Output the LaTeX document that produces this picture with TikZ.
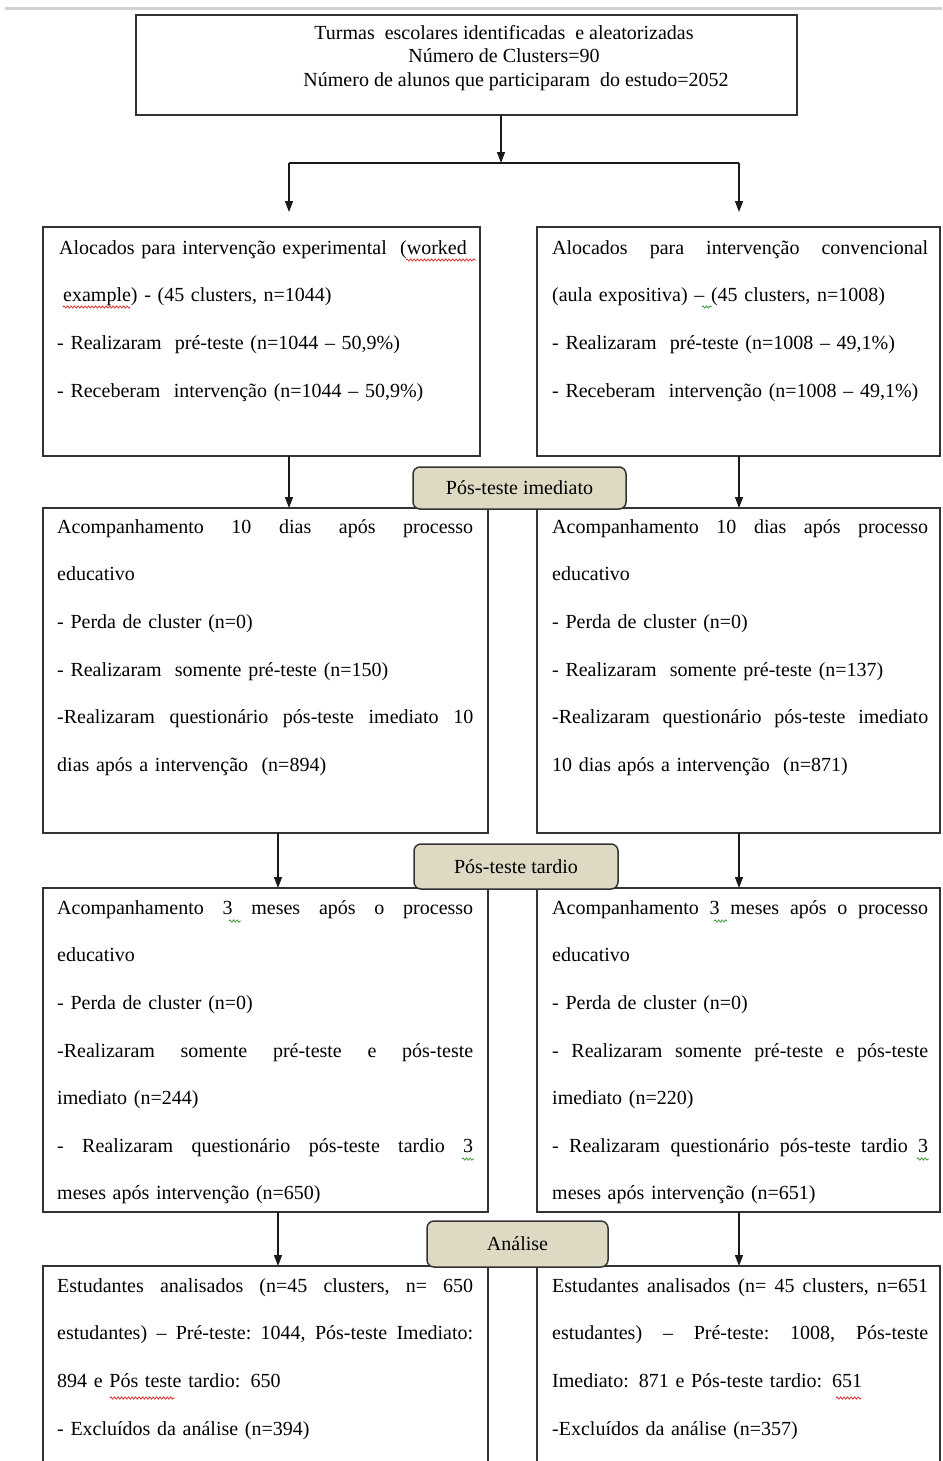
\documentclass[tikz,border=0pt]{standalone}
\usepackage{fontspec}
\setmainfont{Liberation Serif}
\usetikzlibrary{arrows.meta,decorations.pathmorphing}
\definecolor{labelfill}{HTML}{DDD9C3}
\definecolor{frame}{HTML}{333333}
\definecolor{spellred}{HTML}{D83030}
\definecolor{spellgreen}{HTML}{3A9A3A}
\newcommand\tw{416pt}
\newcommand\LJ[1]{\makebox[\tw][s]{\frenchspacing\spaceskip=0.25em plus 1fil\relax #1}}
\newcommand\LN[1]{\makebox[\tw][l]{#1}}
\begin{document}
\begin{tikzpicture}[x=1pt,y=-1pt,
  box/.style={draw=frame, line width=1.5pt, inner sep=0pt, outer sep=0pt, anchor=north west},
  ltxt/.style={anchor=north west, inner sep=0pt, text width=416pt, align=left,
    font=\fontsize{20}{47.6}\selectfont, execute at begin node={\renewcommand\tw{416pt}}},
  rtxt/.style={anchor=north west, inner sep=0pt, text width=376pt, align=left,
    font=\fontsize{20}{47.6}\selectfont, execute at begin node={\renewcommand\tw{376pt}}},
  lbl/.style={draw=frame, line width=1.5pt, fill=labelfill, rounded corners=7pt,
    inner sep=0pt, font=\fontsize{20}{24}\selectfont},
  conn/.style={line width=1.3pt, draw=black!90},
  arr/.style={conn, -{Triangle[length=11pt,width=8pt]}},
  sqr/.style={spellred, line width=0.8pt, decorate, decoration={snake, amplitude=1.1pt, segment length=3.5pt}},
  sqg/.style={spellgreen, line width=0.8pt, decorate, decoration={snake, amplitude=1.1pt, segment length=3.5pt}}]
\useasboundingbox (0,0) rectangle (942,1461);
\draw[line width=3pt, black!18] (5,9) -- (942,9);

% boxes
\node[box, minimum width=661pt, minimum height=100pt] (top) at (136,15) {};
\node[box, minimum width=437pt, minimum height=229pt] (A1) at (43,227) {};
\node[box, minimum width=403pt, minimum height=229pt] (A2) at (537,227) {};
\node[box, minimum width=445pt, minimum height=325pt] (B1) at (43,508) {};
\node[box, minimum width=403pt, minimum height=325pt] (B2) at (537,508) {};
\node[box, minimum width=445pt, minimum height=324pt] (C1) at (43,888) {};
\node[box, minimum width=403pt, minimum height=324pt] (C2) at (537,888) {};
\node[box, minimum width=445pt, minimum height=215pt] (D1) at (43,1266) {};
\node[box, minimum width=403pt, minimum height=215pt] (D2) at (537,1266) {};

% labels
\node[lbl, minimum width=213pt, minimum height=42pt] (L1) at (519.5,488) {Pós-teste imediato};
\node[lbl, minimum width=204pt, minimum height=45pt] (L2) at (516,866.5) {Pós-teste tardio};
\node[lbl, minimum width=181pt, minimum height=46pt] (L3) at (517.5,1244) {Análise};

% connectors
\coordinate (j) at (501,163);
\coordinate (jl) at (289,163);
\coordinate (jr) at (739,163);
\coordinate (tl) at (289,212);
\coordinate (tr) at (739,212);
\coordinate (xl) at (278,0);
\draw[arr] (top.south -| j) -- (j);
\draw[conn] (jl) -- (jr);
\draw[arr] (jl) -- (tl);
\draw[arr] (jr) -- (tr);
\draw[arr] (A1.south -| jl) -- (B1.north -| jl);
\draw[arr] (A2.south -| jr) -- (B2.north -| jr);
\draw[arr] (B1.south -| xl) -- (C1.north -| xl);
\draw[arr] (B2.south -| jr) -- (C2.north -| jr);
\draw[arr] (C1.south -| xl) -- (D1.north -| xl);
\draw[arr] (C2.south -| jr) -- (D2.north -| jr);

% texts
\node[anchor=north, inner sep=0pt, align=center, font=\fontsize{20}{23.5}\selectfont] (ttop) at (504,19)
 {\rule{0pt}{20pt}Turmas~ escolares identificadas~ e aleatorizadas\\
  Número de Clusters=90\\
  \hspace*{24pt}Número de alunos que participaram~ do estudo=2052};

\node[ltxt] (tA1) at (57,234) {\rule{0pt}{20pt}\LN{\hspace*{2pt}Alocados para intervenção experimental~ (worked}\\
\LN{\hspace*{6pt}example) - (45 clusters, n=1044)}\\
\LN{- Realizaram~ pré-teste (n=1044 – 50,9\%)}\\
\LN{- Receberam~ intervenção (n=1044 – 50,9\%)}};

\node[rtxt] (tA2) at (552,234) {\rule{0pt}{20pt}\LJ{Alocados para intervenção convencional}\\
\LN{(aula expositiva) – (45 clusters, n=1008)}\\
\LN{- Realizaram~ pré-teste (n=1008 – 49,1\%)}\\
\LN{- Receberam~ intervenção (n=1008 – 49,1\%)}};

\node[ltxt] (tB1) at (57,513) {\rule{0pt}{20pt}\LJ{Acompanhamento 10 dias após processo}\\
\LN{educativo}\\
\LN{- Perda de cluster (n=0)}\\
\LN{- Realizaram~ somente pré-teste (n=150)}\\
\LJ{-Realizaram questionário pós-teste imediato 10}\\
\LN{dias após a intervenção~ (n=894)}};

\node[rtxt] (tB2) at (552,513) {\rule{0pt}{20pt}\LJ{Acompanhamento 10 dias após processo}\\
\LN{educativo}\\
\LN{- Perda de cluster (n=0)}\\
\LN{- Realizaram~ somente pré-teste (n=137)}\\
\LJ{-Realizaram questionário pós-teste imediato}\\
\LN{10 dias após a intervenção~ (n=871)}};

\node[ltxt] (tC1) at (57,894) {\rule{0pt}{20pt}\LJ{Acompanhamento 3 meses após o processo}\\
\LN{educativo}\\
\LN{- Perda de cluster (n=0)}\\
\LJ{-Realizaram somente pré-teste e pós-teste}\\
\LN{imediato (n=244)}\\
\LJ{- Realizaram questionário pós-teste tardio 3}\\
\LN{meses após intervenção (n=650)}};

\node[rtxt] (tC2) at (552,894) {\rule{0pt}{20pt}\LJ{Acompanhamento 3 meses após o processo}\\
\LN{educativo}\\
\LN{- Perda de cluster (n=0)}\\
\LJ{- Realizaram somente pré-teste e pós-teste}\\
\LN{imediato (n=220)}\\
\LJ{- Realizaram questionário pós-teste tardio 3}\\
\LN{meses após intervenção (n=651)}};

\node[ltxt] (tD1) at (57,1272) {\rule{0pt}{20pt}\LJ{Estudantes analisados (n=45 clusters, n= 650}\\
\LJ{estudantes) – Pré-teste: 1044, Pós-teste Imediato:}\\
\LN{894 e Pós teste tardio: 650}\\
\LN{- Excluídos da análise (n=394)}};

\node[rtxt] (tD2) at (552,1272) {\rule{0pt}{20pt}\LJ{Estudantes analisados (n= 45 clusters, n=651}\\
\LJ{estudantes) – Pré-teste: 1008, Pós-teste}\\
\LN{Imediato: 871 e Pós-teste tardio: 651}\\
\LN{-Excluídos da análise (n=357)}};

% spell-check squiggles
\draw[sqr] (406,260) -- (476,260);
\draw[sqr] (63,307) -- (130,307);
\draw[sqg] (702,307) -- (712,307);
\draw[sqg] (229,921) -- (241,921);
\draw[sqg] (462,1159) -- (474,1159);
\draw[sqg] (714,921) -- (727,921);
\draw[sqg] (917,1159) -- (929,1159);
\draw[sqr] (110,1398) -- (175,1398);
\draw[sqr] (836,1398) -- (861,1398);
\end{tikzpicture}
\end{document}
